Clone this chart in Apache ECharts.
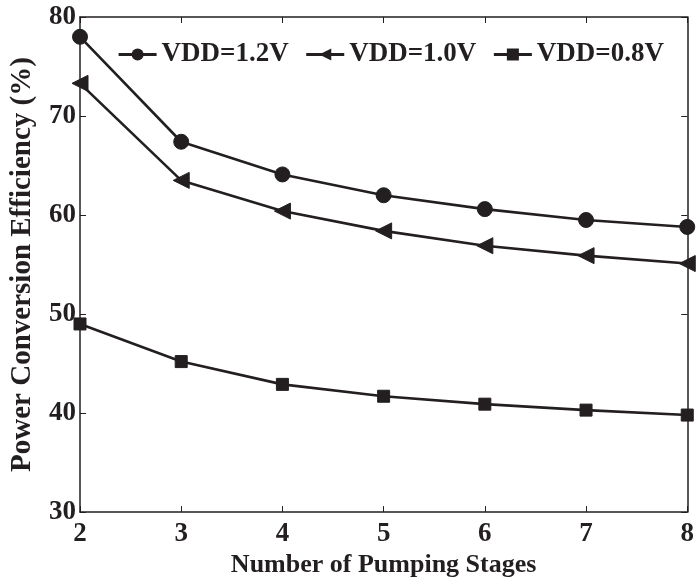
<!DOCTYPE html>
<html>
<head>
<meta charset="utf-8">
<script src="https://cdn.jsdelivr.net/npm/echarts@6/dist/echarts.min.js"></script>
<style>
  html, body { margin: 0; padding: 0; background: #fff; overflow: hidden; }
  #chart { width: 697px; height: 583px; }
</style>
</head>
<body>
<div id="chart"></div>
<script>
// Pumping stage counts on the x axis
const stages = [2, 3, 4, 5, 6, 7, 8];
// Power conversion efficiency (%) for each supply voltage
const pce12 = [78.0, 67.4, 64.1, 62.0, 60.6, 59.5, 58.8];
const pce10 = [73.3, 63.5, 60.4, 58.4, 56.9, 55.9, 55.1];
const pce08 = [49.0, 45.2, 42.9, 41.7, 40.9, 40.3, 39.8];
const seriesNames = ['VDD=1.2V', 'VDD=1.0V', 'VDD=0.8V'];

const ink = '#231f20';
const font = 'Liberation Serif, Times New Roman, serif';

const chart = echarts.init(document.getElementById('chart'));

function pairs(vals) {
  return stages.map((s, i) => [s, vals[i]]);
}

function lineSeries(name, vals, symbol, size, rotate) {
  return {
    name: name,
    type: 'line',
    data: pairs(vals),
    symbol: symbol,
    symbolSize: size,
    symbolRotate: rotate,
    showAllSymbol: true,
    lineStyle: { color: ink, width: 2.6 },
    itemStyle: { color: ink, borderColor: ink },
    emphasis: { disabled: true },
    z: 3
  };
}

const axisCommon = {
  axisLine: { show: true, onZero: false, lineStyle: { color: ink, width: 1.5 } },
  axisTick: { show: true, inside: true, length: 6, lineStyle: { color: ink, width: 1 } },
  splitLine: { show: false },
  axisLabel: { color: ink, fontFamily: font, fontWeight: 'bold', fontSize: 27 },
  nameTextStyle: { color: ink, fontFamily: font, fontWeight: 'bold', fontSize: 26 }
};

chart.setOption({
  animation: false,
  backgroundColor: '#fff',
  grid: { left: 76, top: 17, right: 9, bottom: 64, containLabel: false },
  legend: {
    data: seriesNames,
    top: 36,
    right: 28,
    itemWidth: 38,
    itemHeight: 15,
    itemGap: 16,
    lineStyle: { width: 3, color: ink },
    textStyle: { color: ink, fontFamily: font, fontWeight: 'bold', fontSize: 27 },
    symbolRotate: 'inherit'
  },
  xAxis: [
    Object.assign({}, axisCommon, {
      type: 'value', min: 2, max: 8, interval: 1,
      name: 'Number of Pumping Stages', nameLocation: 'middle', nameGap: 35,
      axisLabel: Object.assign({}, axisCommon.axisLabel, { margin: 8 })
    }),
    Object.assign({}, axisCommon, {
      type: 'value', min: 2, max: 8, interval: 1, position: 'top',
      axisLabel: { show: false }
    })
  ],
  yAxis: [
    Object.assign({}, axisCommon, {
      type: 'value', min: 30, max: 80, interval: 10,
      name: 'Power Conversion Efficiency (%)', nameLocation: 'middle', nameGap: 43,
      nameTextStyle: Object.assign({}, axisCommon.nameTextStyle, { fontSize: 29 }),
      axisLabel: Object.assign({}, axisCommon.axisLabel, { margin: 4 })
    }),
    Object.assign({}, axisCommon, {
      type: 'value', min: 30, max: 80, interval: 10, position: 'right',
      axisLabel: { show: false }
    })
  ],
  series: [
    lineSeries(seriesNames[0], pce12, 'circle', 15, 0),
    lineSeries(seriesNames[1], pce10, 'triangle', 16, 90),
    lineSeries(seriesNames[2], pce08, 'rect', 12, 0)
  ]
});
</script>
</body>
</html>
